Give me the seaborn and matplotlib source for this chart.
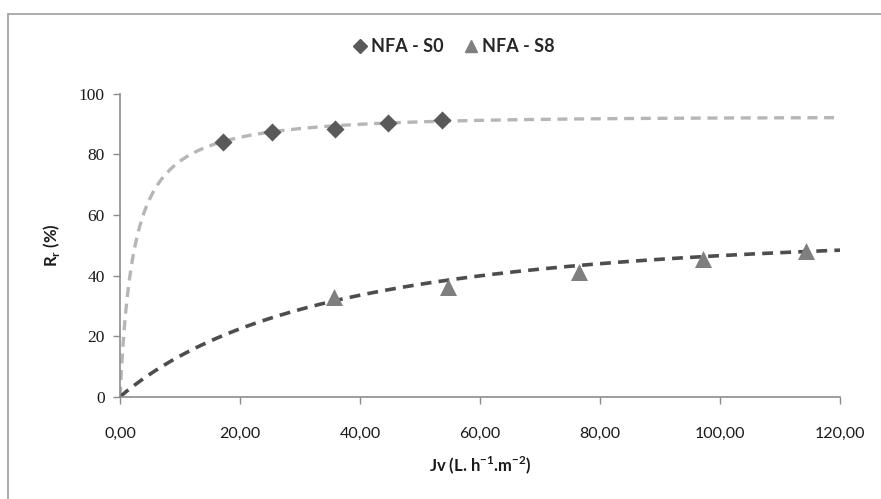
import numpy as np
import pandas as pd
import matplotlib
matplotlib.use("Agg")
import matplotlib.pyplot as plt
from matplotlib.lines import Line2D
import seaborn as sns

# ---- data ----
series_names = ["NFA - S0", "NFA - S8"]
jv_s0 = [17.1, 25.4, 35.8, 44.6, 53.6]
rr_s0 = [84.2, 87.5, 88.2, 90.2, 91.3]
jv_s8 = [35.7, 54.7, 76.5, 97.1, 114.4]
rr_s8 = [32.9, 36.2, 41.3, 45.4, 48.2]

# Spiegler-Kedem fit parameters of the trend lines (sigma, k = (1-sigma)/P)
fit_sigma = [0.922, 0.53]
fit_k = [0.035, 0.0148]

x_ticks = [0, 20, 40, 60, 80, 100, 120]
x_ticklabels = ["0,00", "20,00", "40,00", "60,00", "80,00", "100,00", "120,00"]
y_ticks = [0, 20, 40, 60, 80, 100]

sns.set_theme(style="white")
plt.rcParams["font.family"] = ["Lato", "DejaVu Sans"]

fig = plt.figure(figsize=(8.81, 4.99), dpi=100)
ax = fig.add_axes([120 / 881, 1 - 396.7 / 499, 720 / 881, (396.7 - 93.7) / 499])

# chart frame (only left and top edges are visible in the reference)
fx, fy = 7.5 / 881, 1 - 13.5 / 499
fig.add_artist(Line2D([fx, fx], [0, fy], transform=fig.transFigure,
                      color="#a6a6a6", linewidth=1.3))
fig.add_artist(Line2D([fx, 1], [fy, fy], transform=fig.transFigure,
                      color="#a6a6a6", linewidth=1.3))

# trend lines
jv_grid = np.linspace(0, 120, 600)
curves = []
for name, s, k in zip(series_names, fit_sigma, fit_k):
    F = np.exp(-k * jv_grid)
    rr = 100 * s * (1 - F) / (1 - s * F)
    curves.append(pd.DataFrame({"Jv": jv_grid, "Rr": rr, "serie": name}))
curve_df = pd.concat(curves)

line_colors = {"NFA - S0": "#b6b6b6", "NFA - S8": "#4d4d4d"}
line_widths = {"NFA - S0": 2.4, "NFA - S8": 2.6}
for name in series_names:
    sub = curve_df[curve_df["serie"] == name]
    sns.lineplot(data=sub, x="Jv", y="Rr", ax=ax, color=line_colors[name],
                 linewidth=line_widths[name], linestyle=(0, (3.0, 2.0)), zorder=2)

pts = pd.DataFrame({
    "Jv": jv_s0 + jv_s8,
    "Rr": rr_s0 + rr_s8,
    "serie": [series_names[0]] * len(jv_s0) + [series_names[1]] * len(jv_s8),
})
sns.scatterplot(data=pts[pts["serie"] == series_names[0]], x="Jv", y="Rr", ax=ax,
                marker="D", s=85, color="#595959", edgecolor="#595959", linewidth=0,
                zorder=3, legend=False)
sns.scatterplot(data=pts[pts["serie"] == series_names[1]], x="Jv", y="Rr", ax=ax,
                marker="^", s=150, color="#7f7f7f", edgecolor="#7f7f7f", linewidth=0,
                zorder=3, legend=False)

ax.set_xlim(0, 120)
ax.set_ylim(0, 100)
ax.set_xticks(x_ticks)
ax.set_xticklabels(x_ticklabels, fontsize=11.5, color="#1a1a1a")
ax.set_yticks(y_ticks)
ax.set_yticklabels([str(v) for v in y_ticks], fontsize=12.5, color="#1a1a1a",
                   family=["Liberation Serif", "DejaVu Serif"])
for s in ["top", "right"]:
    ax.spines[s].set_visible(False)
for s in ["left", "bottom"]:
    ax.spines[s].set_color("#8c8c8c")
    ax.spines[s].set_linewidth(1.2)
ax.tick_params(axis="both", which="major", direction="out", length=5, width=1,
               color="#8c8c8c", bottom=True, left=True)
ax.tick_params(axis="x", pad=16.5)
ax.tick_params(axis="y", pad=6)

ax.set_xlabel(r"Jv (L. h$^{\mathregular{-1}}$.m$^{\mathregular{-2}}$)", fontsize=12,
              fontweight="bold", color="#1a1a1a", labelpad=10)
ax.set_ylabel(r"R$_{\mathregular{r}}$ (%)", fontsize=12, fontweight="bold",
              color="#1a1a1a", labelpad=12)

handles = [
    Line2D([], [], marker="D", linestyle="none", color="#595959", markersize=7),
    Line2D([], [], marker="^", linestyle="none", color="#7f7f7f", markersize=9),
]
fig.legend(handles, series_names, loc="center", bbox_to_anchor=(452 / 881, 1 - 46.7 / 499),
           ncol=2, frameon=False, handletextpad=0.0, columnspacing=0.9,
           handlelength=1.2, prop={"weight": "bold", "size": 13})

fig.savefig("out.png", dpi=100)
